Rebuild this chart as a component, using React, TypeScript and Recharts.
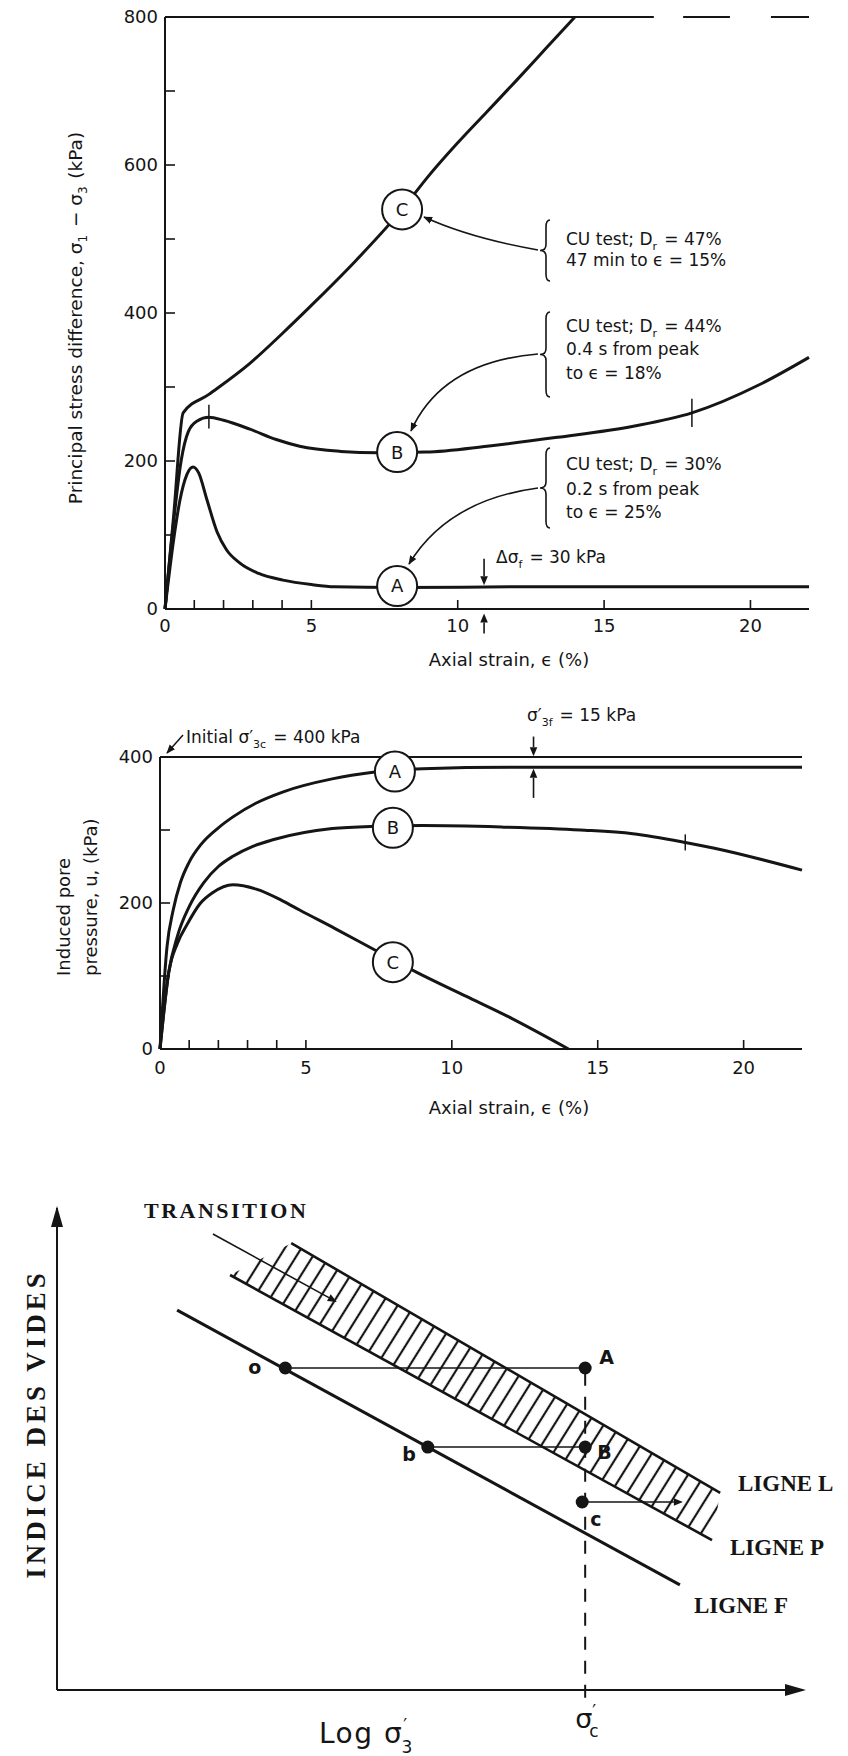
import React from 'react';
import {
  LineChart,
  ComposedChart,
  Line,
  XAxis,
  YAxis,
  ReferenceDot,
  ReferenceLine,
} from 'recharts';

type Pt = { x: number; y: number };

const SANS = "'DejaVu Sans', Verdana, sans-serif";
const SERIF = "'Liberation Serif', 'DejaVu Serif', serif";
const INK = '#151515';

// ---------- upper panel: principal stress difference vs axial strain
const strainTicks = [0, 1, 2, 3, 4, 5, 10, 15, 20];
const strainLabels = [0, 5, 10, 15, 20];
const stressTicks = [0, 100, 200, 300, 400, 500, 600, 700, 800];
const stressLabels = [0, 200, 400, 600, 800];
const stressTopTicks = [1, 2, 3, 4, 5, 10, 15];

const stressA: Pt[] = [
  { x: 0, y: 0 }, { x: 0.3, y: 95 }, { x: 0.51, y: 147 }, { x: 0.75, y: 182 },
  { x: 0.96, y: 192 }, { x: 1.15, y: 184 }, { x: 1.43, y: 148 }, { x: 1.78, y: 104 },
  { x: 2.1, y: 80 }, { x: 2.56, y: 62 }, { x: 3.2, y: 48 }, { x: 4.03, y: 39 },
  { x: 5, y: 33 }, { x: 5.8, y: 30 }, { x: 8, y: 29 }, { x: 12, y: 30 }, { x: 22, y: 30 },
];
const stressB: Pt[] = [
  { x: 0, y: 0 }, { x: 0.3, y: 120 }, { x: 0.55, y: 200 }, { x: 0.8, y: 240 },
  { x: 1.1, y: 254 }, { x: 1.5, y: 259 }, { x: 2, y: 255 }, { x: 2.9, y: 243 },
  { x: 3.8, y: 229 }, { x: 4.6, y: 220 }, { x: 6, y: 213 }, { x: 7.3, y: 211 },
  { x: 8.9, y: 212 }, { x: 11, y: 220 }, { x: 13.4, y: 232 }, { x: 16, y: 247 },
  { x: 18, y: 265 }, { x: 20.3, y: 303 }, { x: 22, y: 340 },
];
const stressC: Pt[] = [
  { x: 0, y: 0 }, { x: 0.3, y: 128 }, { x: 0.62, y: 265 }, { x: 1.5, y: 290 },
  { x: 2.9, y: 332 }, { x: 4, y: 372 }, { x: 5.2, y: 418 }, { x: 6.5, y: 470 },
  { x: 8.1, y: 540 }, { x: 9, y: 585 }, { x: 10, y: 630 }, { x: 11, y: 672 },
  { x: 12, y: 714 }, { x: 13, y: 757 }, { x: 14, y: 800 },
];
const stressMarkers = [
  { id: 'A', x: 7.93, y: 31 },
  { id: 'B', x: 7.93, y: 212 },
  { id: 'C', x: 8.1, y: 540 },
];
const stressCrossTicks = [
  { x: 1.5, lo: 244, hi: 276 },
  { x: 18, lo: 246, hi: 284 },
];
const stressFrame = [
  [0, 16.7],
  [17.7, 19.3],
  [20.7, 22],
];
const deltaSigmaX = 10.9;

// ---------- middle panel: induced pore pressure vs axial strain
const poreTicks = [0, 100, 200, 300, 400];
const poreLabels = [0, 200, 400];
const poreTopTicks = [1, 2, 3, 4, 5, 10, 15, 20];

const poreA: Pt[] = [
  { x: 0, y: 0 }, { x: 0.24, y: 140 }, { x: 0.45, y: 190 }, { x: 0.7, y: 228 },
  { x: 1, y: 256 }, { x: 1.4, y: 280 }, { x: 2, y: 303 }, { x: 2.5, y: 318 },
  { x: 3.3, y: 337 }, { x: 4.2, y: 352 }, { x: 5.9, y: 370 }, { x: 7.3, y: 379 },
  { x: 9, y: 384 }, { x: 12, y: 386 }, { x: 22, y: 386 },
];
const poreB: Pt[] = [
  { x: 0, y: 0 }, { x: 0.3, y: 105 }, { x: 0.6, y: 155 }, { x: 1, y: 195 },
  { x: 1.5, y: 228 }, { x: 2, y: 250 }, { x: 2.5, y: 264 }, { x: 3.2, y: 278 },
  { x: 3.9, y: 287 }, { x: 5.9, y: 302 }, { x: 7.3, y: 305 }, { x: 9, y: 306 },
  { x: 11.7, y: 304 }, { x: 14.4, y: 300 }, { x: 16.2, y: 295 }, { x: 18, y: 283 },
  { x: 19, y: 275 }, { x: 22, y: 245 },
];
const poreC: Pt[] = [
  { x: 0, y: 0 }, { x: 0.3, y: 105 }, { x: 0.6, y: 145 }, { x: 0.92, y: 170 },
  { x: 1.37, y: 199 }, { x: 1.8, y: 214 }, { x: 2.5, y: 225 }, { x: 3.3, y: 219 },
  { x: 4.2, y: 203 }, { x: 4.8, y: 190 }, { x: 6, y: 165 }, { x: 7.3, y: 137 },
  { x: 8.8, y: 105 }, { x: 10.5, y: 72 }, { x: 11.9, y: 45 }, { x: 14, y: 0 },
];
const poreMarkers = [
  { id: 'A', x: 8.05, y: 380 },
  { id: 'B', x: 7.98, y: 303 },
  { id: 'C', x: 7.98, y: 119 },
];
const poreCrossTicks = [{ x: 18, lo: 272, hi: 294 }];
const sigma3fX = 12.8;

// ---------- lower panel: void ratio vs log sigma'3 (schematic)
const ligneL: Pt[] = [{ x: 31.4, y: 92.7 }, { x: 88.9, y: 40.9 }];
const ligneP: Pt[] = [{ x: 23.2, y: 86.1 }, { x: 87.8, y: 31.1 }];
const ligneF: Pt[] = [{ x: 16.1, y: 78.8 }, { x: 83.5, y: 21.8 }];
const transitionPointer: Pt[] = [{ x: 20.9, y: 94.6 }, { x: 37.5, y: 80.5 }];
const sigmaC = 70.8;
const states = [
  { id: 'o', x: 30.6, y: 66.8 },
  { id: 'A', x: sigmaC, y: 66.8 },
  { id: 'b', x: 49.7, y: 50.4 },
  { id: 'B', x: sigmaC, y: 50.4 },
  { id: 'c', x: 70.4, y: 39 },
];
const pathOA: Pt[] = [states[0], states[1]];
const pathBB: Pt[] = [states[2], states[3]];
const pathC: Pt[] = [{ x: 70.4, y: 39 }, { x: 83.9, y: 39 }];

// ---------- layout (page pixels)
const W = 848;
const Y_W = 60;
const X_H = 30;
type Frame = { top: number; height: number; x0: number; x1: number; y0: number; y1: number };
const F1: Frame = { top: 0, height: 680, x0: 165, x1: 809, y0: 17, y1: 609 };
const F2: Frame = { top: 680, height: 440, x0: 160, x1: 802, y0: 757, y1: 1049 };
const F3: Frame = { top: 1120, height: 636, x0: 57, x1: 803, y0: 1208, y1: 1690 };

const marginOf = (f: Frame, yw: number, xh: number, topH: number) => ({
  left: f.x0 - yw,
  right: W - f.x1,
  top: f.y0 - f.top - topH,
  bottom: f.top + f.height - f.y1 - xh,
});

// page position of a data point in the lower panel (for the overlay only)
const bx = (x: number) => F3.x0 + (x / 100) * (F3.x1 - F3.x0);
const by = (y: number) => F3.y1 - (y / 100) * (F3.y1 - F3.y0);

const axisLine = { stroke: INK, strokeWidth: 2 };
const tickLine = { stroke: INK, strokeWidth: 1.6 };
const tickText = { fill: INK, fontSize: 18, fontFamily: SANS };

const arrowShape = (props: any) => {
  const { x1, y1, x2, y2 } = props;
  const a = Math.atan2(y2 - y1, x2 - x1);
  const len = 9;
  const half = 3.8;
  const hx = x2 - len * Math.cos(a);
  const hy = y2 - len * Math.sin(a);
  const px = -Math.sin(a) * half;
  const py = Math.cos(a) * half;
  return (
    <g>
      <line x1={x1} y1={y1} x2={hx} y2={hy} stroke={INK} strokeWidth={1.6} />
      <polygon points={`${x2},${y2} ${hx + px},${hy + py} ${hx - px},${hy - py}`} fill={INK} />
    </g>
  );
};

const curve = (data: Pt[], key: string, w = 3) => (
  <Line
    key={key}
    data={data}
    dataKey="y"
    type="monotone"
    stroke={INK}
    strokeWidth={w}
    dot={false}
    activeDot={false}
    isAnimationActive={false}
  />
);

const circled = (m: { id: string; x: number; y: number }) => (
  <ReferenceDot
    key={m.id}
    x={m.x}
    y={m.y}
    r={20}
    fill="#fff"
    stroke={INK}
    strokeWidth={2}
    ifOverflow="visible"
    label={{ value: m.id, position: 'center', fill: INK, fontSize: 18, fontFamily: SANS }}
  />
);

function StressChart() {
  return (
    <div style={{ position: 'absolute', left: 0, top: F1.top }}>
      <LineChart width={W} height={F1.height} margin={marginOf(F1, Y_W, X_H, 1)}>
        <XAxis
          dataKey="x"
          type="number"
          domain={[0, 22]}
          ticks={strainTicks}
          interval={0}
          tickFormatter={(v) => (strainLabels.includes(v) ? String(v) : '')}
          tickSize={-9}
          tickMargin={19}
          height={X_H}
          axisLine={axisLine}
          tickLine={tickLine}
          tick={tickText}
        />
        <XAxis
          xAxisId="top"
          orientation="top"
          type="number"
          domain={[0, 22]}
          ticks={stressTopTicks}
          interval={0}
          tickFormatter={() => ''}
          tickSize={-10}
          height={1}
          axisLine={false}
          tickLine={tickLine}
        />
        <YAxis
          type="number"
          domain={[0, 800]}
          ticks={stressTicks}
          interval={0}
          tickFormatter={(v) => (stressLabels.includes(v) ? String(v) : '')}
          tickSize={-10}
          tickMargin={17}
          width={Y_W}
          axisLine={axisLine}
          tickLine={tickLine}
          tick={tickText}
        />
        {stressFrame.map(([a, b]) => (
          <ReferenceLine
            key={`f${a}`}
            segment={[{ x: a, y: 800 }, { x: b, y: 800 }]}
            stroke={INK}
            strokeWidth={2}
            ifOverflow="visible"
          />
        ))}
        {curve(stressA, 'A')}
        {curve(stressB, 'B')}
        {curve(stressC, 'C')}
        {stressCrossTicks.map((t) => (
          <ReferenceLine
            key={`t${t.x}`}
            segment={[{ x: t.x, y: t.lo }, { x: t.x, y: t.hi }]}
            stroke={INK}
            strokeWidth={1.5}
          />
        ))}
        <ReferenceLine
          segment={[{ x: deltaSigmaX, y: 68 }, { x: deltaSigmaX, y: 32 }]}
          ifOverflow="visible"
          shape={arrowShape}
        />
        <ReferenceLine
          segment={[{ x: deltaSigmaX, y: -33 }, { x: deltaSigmaX, y: -6 }]}
          ifOverflow="visible"
          shape={arrowShape}
        />
        {stressMarkers.map(circled)}
      </LineChart>
    </div>
  );
}

function PoreChart() {
  return (
    <div style={{ position: 'absolute', left: 0, top: F2.top }}>
      <LineChart width={W} height={F2.height} margin={marginOf(F2, Y_W, X_H, 1)}>
        <XAxis
          dataKey="x"
          type="number"
          domain={[0, 22]}
          ticks={strainTicks}
          interval={0}
          tickFormatter={(v) => (strainLabels.includes(v) ? String(v) : '')}
          tickSize={-9}
          tickMargin={21}
          height={X_H}
          axisLine={axisLine}
          tickLine={tickLine}
          tick={tickText}
        />
        <XAxis
          xAxisId="top"
          orientation="top"
          type="number"
          domain={[0, 22]}
          ticks={poreTopTicks}
          interval={0}
          tickFormatter={() => ''}
          tickSize={-8}
          height={1}
          axisLine={axisLine}
          tickLine={tickLine}
        />
        <YAxis
          type="number"
          domain={[0, 400]}
          ticks={poreTicks}
          interval={0}
          tickFormatter={(v) => (poreLabels.includes(v) ? String(v) : '')}
          tickSize={-10}
          tickMargin={17}
          width={Y_W}
          axisLine={axisLine}
          tickLine={tickLine}
          tick={tickText}
        />
        {curve(poreA, 'A')}
        {curve(poreB, 'B')}
        {curve(poreC, 'C')}
        {poreCrossTicks.map((t) => (
          <ReferenceLine
            key={`t${t.x}`}
            segment={[{ x: t.x, y: t.lo }, { x: t.x, y: t.hi }]}
            stroke={INK}
            strokeWidth={1.5}
          />
        ))}
        <ReferenceLine
          segment={[{ x: sigma3fX, y: 428 }, { x: sigma3fX, y: 401 }]}
          ifOverflow="visible"
          shape={arrowShape}
        />
        <ReferenceLine
          segment={[{ x: sigma3fX, y: 344 }, { x: sigma3fX, y: 384 }]}
          ifOverflow="visible"
          shape={arrowShape}
        />
        {poreMarkers.map(circled)}
      </LineChart>
    </div>
  );
}

function StateChart() {
  return (
    <div style={{ position: 'absolute', left: 0, top: F3.top }}>
      <ComposedChart width={W} height={F3.height} margin={marginOf(F3, 2, 2, 0)}>
        <XAxis
          dataKey="x"
          type="number"
          domain={[0, 100]}
          height={2}
          tick={false}
          tickLine={false}
          axisLine={axisLine}
        />
        <YAxis
          type="number"
          domain={[0, 100]}
          width={2}
          tick={false}
          tickLine={false}
          axisLine={axisLine}
        />
        <ReferenceLine
          segment={[{ x: sigmaC, y: -1.6 }, { x: sigmaC, y: 66.8 }]}
          stroke={INK}
          strokeWidth={2}
          strokeDasharray="13 11"
          ifOverflow="visible"
        />
        {curve(ligneL, 'L', 2.6)}
        {curve(ligneP, 'P', 2.6)}
        {curve(ligneF, 'F', 3)}
        {curve(pathOA, 'oA', 1.6)}
        {curve(pathBB, 'bB', 1.6)}
        <ReferenceLine segment={[pathC[0], pathC[1]]} ifOverflow="visible" shape={arrowShape} />
        <ReferenceLine
          segment={[transitionPointer[0], transitionPointer[1]]}
          ifOverflow="visible"
          shape={arrowShape}
        />
        {states.map((s) => (
          <ReferenceDot key={s.id} x={s.x} y={s.y} r={6.5} fill={INK} stroke="none" ifOverflow="visible" />
        ))}
      </ComposedChart>
    </div>
  );
}

const brace = (x: number, y0: number, y1: number) => {
  const m = (y0 + y1) / 2;
  return `M ${x + 4} ${y0} Q ${x} ${y0} ${x} ${y0 + 7} L ${x} ${m - 6} Q ${x} ${m} ${x - 6} ${m} Q ${x} ${m} ${x} ${m + 6} L ${x} ${y1 - 7} Q ${x} ${y1} ${x + 4} ${y1}`;
};

const Sub = ({ children, size = 12, shift = 5 }: any) => (
  <>
    <tspan dy={shift} fontSize={size}>{children}</tspan>
    <tspan dy={-shift}>{'\u200a'}</tspan>
  </>
);

function Overlay() {
  const band = [...ligneP, ...[...ligneL].reverse()]
    .map((p) => `${bx(p.x)},${by(p.y)}`)
    .join(' ');
  const t = { fontFamily: SANS, fontSize: 17, fill: INK };
  return (
    <svg
      width={W}
      height={1756}
      style={{ position: 'absolute', left: 0, top: 0, pointerEvents: 'none' }}
    >
      <defs>
        <marker
          id="ah"
          viewBox="0 0 10 10"
          refX="9"
          refY="5"
          markerWidth="9"
          markerHeight="9"
          orient="auto"
          markerUnits="userSpaceOnUse"
        >
          <path d="M0,1 L10,5 L0,9 z" fill={INK} />
        </marker>
        <pattern
          id="hatch"
          patternUnits="userSpaceOnUse"
          width="14"
          height="14"
          patternTransform="rotate(32)"
        >
          <line x1="7" y1="0" x2="7" y2="14" stroke={INK} strokeWidth="2.2" />
        </pattern>
      </defs>

      {/* upper panel texts */}
      <text
        x={82}
        y={318}
        transform="rotate(-90 82 318)"
        textAnchor="middle"
        fontFamily={SANS}
        fontSize={18.5}
        fill={INK}
      >
        Principal stress difference, σ<Sub>1</Sub> − σ<Sub>3</Sub> (kPa)
      </text>
      <text x={509} y={666} textAnchor="middle" fontFamily={SANS} fontSize={18} fill={INK}>
        Axial strain, ϵ (%)
      </text>

      <path d={brace(546, 220, 281)} fill="none" stroke={INK} strokeWidth={1.6} />
      <text {...t} x={566} y={245}>CU test; D<Sub size={11}>r</Sub> = 47%</text>
      <text {...t} x={566} y={266}>47 min to ϵ = 15%</text>
      <path d="M 538 250 Q 470 238 424 217" fill="none" stroke={INK} strokeWidth={1.6} markerEnd="url(#ah)" />

      <path d={brace(546, 312, 397)} fill="none" stroke={INK} strokeWidth={1.6} />
      <text {...t} x={566} y={332}>CU test; D<Sub size={11}>r</Sub> = 44%</text>
      <text {...t} x={566} y={355}>0.4 s from peak</text>
      <text {...t} x={566} y={379}>to ϵ = 18%</text>
      <path d="M 538 354 Q 442 362 411 431" fill="none" stroke={INK} strokeWidth={1.6} markerEnd="url(#ah)" />

      <path d={brace(546, 448, 528)} fill="none" stroke={INK} strokeWidth={1.6} />
      <text {...t} x={566} y={470}>CU test; D<Sub size={11}>r</Sub> = 30%</text>
      <text {...t} x={566} y={495}>0.2 s from peak</text>
      <text {...t} x={566} y={518}>to ϵ = 25%</text>
      <path d="M 538 488 Q 448 500 409 564" fill="none" stroke={INK} strokeWidth={1.6} markerEnd="url(#ah)" />

      <text {...t} x={496} y={563}>Δσ<Sub size={11}>f</Sub> = 30 kPa</text>

      {/* middle panel texts */}
      <text
        x={70}
        y={976}
        transform="rotate(-90 70 976)"
        fontFamily={SANS}
        fontSize={18}
        fill={INK}
      >
        Induced pore
      </text>
      <text
        x={97}
        y={976}
        transform="rotate(-90 97 976)"
        fontFamily={SANS}
        fontSize={18}
        fill={INK}
      >
        pressure, u, (kPa)
      </text>
      <text x={509} y={1114} textAnchor="middle" fontFamily={SANS} fontSize={18} fill={INK}>
        Axial strain, ϵ (%)
      </text>
      <text {...t} x={186} y={743}>
        Initial σ′<Sub size={11}>3c</Sub> = 400 kPa
      </text>
      <path d="M 183 735 L 167 753" fill="none" stroke={INK} strokeWidth={1.5} markerEnd="url(#ah)" />
      <text {...t} x={527} y={721}>
        σ′<Sub size={11}>3f</Sub> = 15 kPa
      </text>

      {/* lower panel */}
      <polygon points={band} fill="url(#hatch)" stroke="none" />
      <polygon points={`${F3.x0},${F3.y0 - 2} ${F3.x0 - 6},${F3.y0 + 19} ${F3.x0 + 6},${F3.y0 + 19}`} fill={INK} />
      <polygon points={`${F3.x1 + 3},${F3.y1} ${F3.x1 - 18},${F3.y1 - 6} ${F3.x1 - 18},${F3.y1 + 6}`} fill={INK} />

      <text x={144} y={1218} fontFamily={SERIF} fontWeight={700} fontSize={22} letterSpacing={2.5} fill={INK}>
        TRANSITION
      </text>
      <text
        x={45}
        y={1424}
        transform="rotate(-90 45 1424)"
        textAnchor="middle"
        fontFamily={SERIF}
        fontWeight={700}
        fontSize={27}
        letterSpacing={4}
        fill={INK}
      >
        INDICE DES VIDES
      </text>
      <text x={738} y={1491} fontFamily={SERIF} fontWeight={700} fontSize={23} fill={INK}>LIGNE L</text>
      <text x={730} y={1555} fontFamily={SERIF} fontWeight={700} fontSize={23} fill={INK}>LIGNE P</text>
      <text x={694} y={1613} fontFamily={SERIF} fontWeight={700} fontSize={23} fill={INK}>LIGNE F</text>

      <g fontFamily={SANS} fontWeight={700} fontSize={19} fill={INK}>
        <text x={bx(states[0].x) - 24} y={by(states[0].y) + 6} textAnchor="end">o</text>
        <text x={bx(states[1].x) + 14} y={by(states[1].y) - 4}>A</text>
        <text x={bx(states[2].x) - 12} y={by(states[2].y) + 14} textAnchor="end">b</text>
        <text x={bx(states[3].x) + 12} y={by(states[3].y) + 12}>B</text>
        <text x={bx(states[4].x) + 8} y={by(states[4].y) + 24}>c</text>
      </g>

      <text x={319} y={1743} fontFamily={SANS} fontSize={28} fill={INK} letterSpacing={1.5}>
        Log  σ<tspan dy={-12} fontSize={17}>′</tspan>
        <tspan dx={-7} dy={22} fontSize={17}>3</tspan>
      </text>
      <text x={bx(sigmaC) - 10} y={1728} fontFamily={SANS} fontSize={27} fill={INK}>
        σ<tspan dy={-11} fontSize={17}>′</tspan>
        <tspan dx={-7} dy={20} fontSize={17}>c</tspan>
      </text>
    </svg>
  );
}

export default function App() {
  return (
    <div style={{ position: 'absolute', left: 0, top: 0, width: W, height: 1756, background: '#fff' }}>
      <StressChart />
      <PoreChart />
      <StateChart />
      <Overlay />
    </div>
  );
}
